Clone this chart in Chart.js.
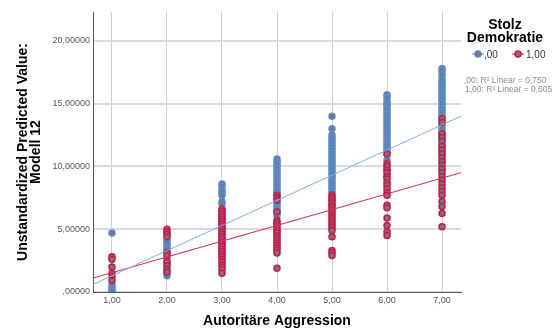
<!DOCTYPE html>
<html>
<head>
<meta charset="utf-8">
<script src="https://cdn.jsdelivr.net/npm/chart.js@4.4.1/dist/chart.umd.min.js"></script>
<style>
  html, body { margin: 0; padding: 0; background: #fff; }
  #wrap { width: 558px; height: 329px; }
</style>
</head>
<body>
<div id="wrap"><canvas id="chart" width="558" height="329"></canvas></div>
<script>
// Autoritäre Aggression categories (x)
const xCats = [1, 2, 3, 4, 5, 6, 7]

// Stolz Demokratie = ,00 (blue) - predicted values per category
const groupNull = [
    [4.7, 0.55, 0.35, 0.15, 0.0],
    [4.1, 3.9, 3.7, 3.5, 3.3, 3.15, 2.7, 2.3, 1.45, 1.3],
    [8.6, 8.4, 8.1, 7.9, 7.7, 7.2, 7.0, 6.5, 6.2, 5.9, 5.5, 5.1, 4.7, 4.3, 3.9, 3.4, 2.9],
    [10.6, 10.4, 10.2, 10.0, 9.8, 9.6, 9.4, 9.2, 9.0, 8.8, 8.6, 8.4, 8.2, 8.0, 7.8, 7.1, 6.9, 6.7, 6.5, 6.3, 6.1, 5.5, 4.8],
    [14.0, 13.0, 12.5, 12.3, 12.1, 11.9, 11.7, 11.5, 11.3, 11.1, 10.9, 10.7, 10.5, 10.3, 10.1, 9.9, 9.7, 9.5, 9.3, 9.1, 8.9, 8.7, 8.5, 8.3, 8.1, 7.9, 7.4, 6.9],
    [15.7, 15.5, 15.2, 15.0, 14.8, 14.6, 14.4, 14.2, 14.0, 13.8, 13.6, 13.4, 13.2, 13.0, 12.8, 12.6, 12.4, 12.2, 12.0, 11.8, 11.6, 11.4, 11.2, 11.0, 10.5, 9.8, 9.2],
    [17.8, 17.6, 17.3, 17.0, 16.8, 16.6, 16.4, 16.2, 16.0, 15.8, 15.6, 15.4, 15.2, 15.0, 14.8, 14.6, 14.4, 14.2, 14.0, 13.7, 13.3, 13.0, 12.7, 12.4, 12.1, 11.8, 11.5, 11.2, 10.9, 10.4, 9.8]
]

// Stolz Demokratie = 1,00 (red)
const groupOne = [
    [2.8, 2.6, 2.0, 1.5, 1.2, 0.9],
    [5.0, 4.8, 4.6, 4.4, 3.1, 2.9, 2.4, 2.1, 1.8, 1.6],
    [6.6, 6.4, 6.2, 6.0, 5.8, 5.6, 5.4, 5.2, 5.0, 4.8, 4.6, 4.4, 4.2, 4.0, 3.8, 3.6, 3.4, 3.2, 3.0, 2.8, 2.6, 2.4, 2.2, 2.0, 1.8, 1.5],
    [7.7, 7.5, 7.3, 6.4, 5.7, 5.5, 5.3, 5.1, 4.9, 4.7, 4.5, 4.3, 4.1, 3.9, 3.7, 3.5, 3.3, 3.1, 1.9],
    [7.7, 7.5, 7.3, 7.1, 6.9, 6.7, 6.5, 6.3, 6.1, 5.9, 5.7, 5.5, 5.3, 5.1, 4.9, 4.4, 3.3, 3.1, 2.9],
    [11.0, 10.2, 10.0, 9.7, 9.5, 9.2, 9.0, 8.7, 8.5, 8.2, 7.9, 7.7, 6.9, 6.7, 5.9, 5.3, 4.8, 4.5],
    [13.8, 13.5, 12.6, 12.3, 12.0, 11.6, 11.3, 11.0, 10.7, 10.4, 10.1, 9.8, 9.5, 9.2, 8.9, 8.6, 8.3, 8.0, 7.7, 7.2, 6.8, 6.25, 5.2]
]

// linear fits: [intercept, slope]
const fitNull = [-0.71, 2.003]
const fitOne = [0.28, 1.256]
const r2Labels = [',00: R\u00b2 Linear = 0,750', '1,00: R\u00b2 Linear = 0,605']
const groupLabels = [',00', '1,00']

const xMin = 0.655, xMax = 7.345
const yMax = 22.3

const blue = 'rgb(88,140,210)'
const red = 'rgb(204,24,72)'
const fill = '#777777'
const FONT = '"Liberation Sans", Arial, sans-serif'

function points(groups) {
    const out = []
    groups.forEach((vals, i) => vals.forEach(v => out.push({ x: xCats[i], y: v })))
    return out
}
function fitLine(fit) {
    return [xMin, xMax].map(x => ({ x: x, y: fit[0] + fit[1] * x }))
}
function fmt(v, d) {
    let s = v.toFixed(d).replace('.', ',')
    if (s.startsWith('0,')) s = s.slice(1)
    return s
}

const legendPlugin = {
    id: 'spssLegend',
    afterDraw(chart) {
        const ctx = chart.ctx
        ctx.save()
        ctx.fillStyle = '#000'
        ctx.textAlign = 'center'
        ctx.textBaseline = 'middle'
        ctx.font = 'bold 14px ' + FONT
        ctx.fillText('Stolz', 505, 25)
        ctx.fillText('Demokratie', 505, 38)
        // items
        const items = [[478, blue, groupLabels[0], 484], [518, red, groupLabels[1], 526]]
        items.forEach(([cx, col, txt, tx]) => {
            ctx.strokeStyle = col
            ctx.lineWidth = 1
            ctx.beginPath()
            ctx.moveTo(cx - 6, 54)
            ctx.lineTo(cx + 6, 54)
            ctx.stroke()
            ctx.beginPath()
            ctx.arc(cx, 54, 3, 0, Math.PI * 2)
            ctx.fillStyle = fill
            ctx.fill()
            ctx.lineWidth = 1.5
            ctx.stroke()
            ctx.fillStyle = '#333'
            ctx.textAlign = 'left'
            ctx.font = '10px ' + FONT
            ctx.fillText(txt, tx, 55)
        })
        ctx.fillStyle = '#8a8a8a'
        ctx.font = '8.5px ' + FONT
        ctx.textAlign = 'left'
        ctx.fillText(r2Labels[0], 464, 81)
        ctx.fillText(r2Labels[1], 465, 90)
        ctx.restore()
    }
}

const ctx = document.getElementById('chart')
const chart = new Chart(ctx, {
    type: 'scatter',
    data: {
        datasets: [
            {
                type: 'line', data: fitLine(fitNull), borderColor: 'rgb(125,172,238)', borderWidth: 1,
                pointRadius: 0, fill: false, order: 0
            },
            {
                type: 'line', data: fitLine(fitOne), borderColor: 'rgb(226,40,82)', borderWidth: 1,
                pointRadius: 0, fill: false, order: 0
            },
            {
                data: points(groupOne), backgroundColor: fill, borderColor: red,
                pointRadius: 3, borderWidth: 1.5, order: 1
            },
            {
                data: points(groupNull), backgroundColor: fill, borderColor: blue,
                pointRadius: 3, borderWidth: 1.5, order: 2
            }
        ]
    },
    options: {
        responsive: false,
        animation: false,
        layout: { padding: { left: 0, right: 97, top: 12, bottom: 0 } },
        plugins: { legend: { display: false }, tooltip: { enabled: false } },
        scales: {
            x: {
                type: 'linear', min: xMin, max: xMax,
                afterFit(scale) { scale.height = 37 },
                ticks: {
                    stepSize: 1, includeBounds: false, padding: 3,
                    color: '#555', font: { family: FONT, size: 9 },
                    callback: v => fmt(v, 2)
                },
                grid: { color: '#cfcfcf', lineWidth: 1, drawTicks: false },
                border: { color: '#555', width: 1 },
                title: {
                    display: true, text: 'Autoritäre Aggression', color: '#000',
                    font: { family: FONT, size: 14, weight: 'bold', lineHeight: 1 },
                    padding: { top: 0, bottom: 1 }
                }
            },
            y: {
                type: 'linear', min: 0, max: yMax,
                afterFit(scale) { scale.width = 93 },
                ticks: {
                    stepSize: 5, includeBounds: false, padding: 3,
                    color: '#555', font: { family: FONT, size: 9 },
                    callback: v => fmt(v, 5)
                },
                grid: { color: '#dadada', lineWidth: 2, drawTicks: false },
                border: { color: '#555', width: 1 },
                title: {
                    display: true, text: ['Unstandardized Predicted Value:', 'Modell 12'], color: '#000',
                    font: { family: FONT, size: 14, weight: 'bold', lineHeight: 0.93 },
                    padding: { top: 16.5, bottom: 0 }
                }
            }
        }
    },
    plugins: [legendPlugin]
})
</script>
</body>
</html>
